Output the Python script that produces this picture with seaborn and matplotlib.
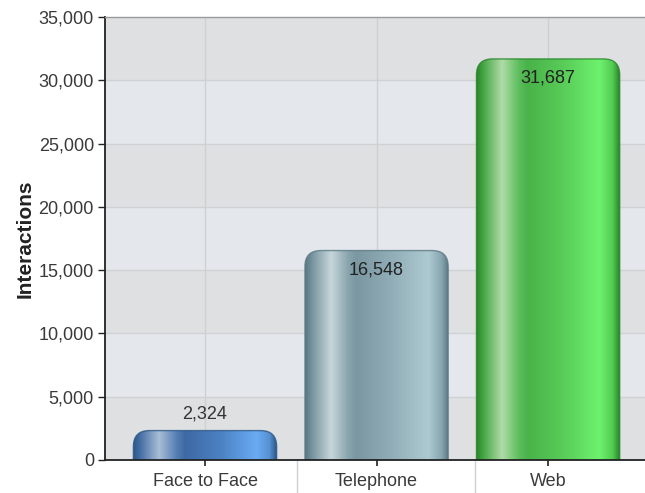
import numpy as np
import pandas as pd
import matplotlib
matplotlib.use("Agg")
import matplotlib.pyplot as plt
from matplotlib.patches import FancyBboxPatch
from matplotlib.colors import LinearSegmentedColormap
from matplotlib.ticker import FuncFormatter, FixedLocator
import seaborn as sns

# Interactions by channel
channels = ["Face to Face", "Telephone", "Web"]
interactions = [2324, 16548, 31687]

# Cylinder-style shading stops for each channel (position across bar, colour)
shades = {
    "Face to Face": [(0.0, "#2b5687"), (0.05, "#4670a5"), (0.18, "#aabed6"),
                     (0.30, "#5680b4"), (0.36, "#3e69a4"), (0.60, "#4b80c2"),
                     (0.86, "#6aabf2"), (0.95, "#5690d2"), (1.0, "#2b5687")],
    "Telephone":    [(0.0, "#5a7884"), (0.05, "#7895a0"), (0.18, "#c7d6db"),
                     (0.30, "#89a4ad"), (0.36, "#7a97a2"), (0.60, "#91aeb8"),
                     (0.86, "#adc9d1"), (0.95, "#88a6b0"), (1.0, "#5a7884")],
    "Web":          [(0.0, "#278527"), (0.05, "#46a646"), (0.18, "#b0dca8"),
                     (0.30, "#5bbd5b"), (0.36, "#49b349"), (0.60, "#58cb58"),
                     (0.86, "#6ef26e"), (0.95, "#52cc52"), (1.0, "#278527")],
}

sns.set_theme(style="white")
plt.rcParams["font.family"] = ["Liberation Sans", "DejaVu Sans"]

df = pd.DataFrame({"channel": channels, "interactions": interactions})

fig = plt.figure(figsize=(6.45, 4.93), dpi=100)
ax = fig.add_axes([105 / 645, 33 / 493, 1 - 105 / 645, 443 / 493])

# Alternating horizontal bands behind the bars
for i, lo in enumerate(range(0, 35000, 5000)):
    ax.axhspan(lo, lo + 5000, color="#dfe0e2" if i % 2 == 0 else "#e4e8ec",
               zorder=0, lw=0)

sns.barplot(data=df, x="channel", y="interactions", width=0.835,
            ax=ax, color="#888888", zorder=2)
bars = list(ax.containers[0])

ax.set_xlim(-0.583, 2.565)
ax.set_ylim(0, 35000)

# Grid
for y in range(5000, 35000, 5000):
    ax.axhline(y, color="#cfd1d4", lw=1.0, zorder=0.5)
for x in range(len(channels)):
    ax.axvline(x, color="#cfd0d2", lw=1.0, zorder=0.5)

# Replace flat bars with rounded, shaded cylinders
rad_px = 16.0
bbox = ax.get_window_extent()
xpx = bbox.width / (ax.get_xlim()[1] - ax.get_xlim()[0])
ypx = bbox.height / (ax.get_ylim()[1] - ax.get_ylim()[0])
rad_x = rad_px / xpx
aspect = xpx / ypx
rad_y = rad_x * aspect


def rounded(x0, w, h, **kw):
    # box runs below zero so only the top corners show inside the axes
    return FancyBboxPatch((x0 + rad_x, -2 * rad_y), w - 2 * rad_x,
                          h + 2 * rad_y - rad_y,
                          boxstyle=f"round,pad={rad_x}",
                          mutation_aspect=aspect, **kw)


for patch, name in zip(bars, channels):
    x0 = patch.get_x()
    w = patch.get_width()
    h = patch.get_height()
    patch.set_visible(False)
    box = rounded(x0, w, h, facecolor="none", edgecolor="none", zorder=2)
    ax.add_patch(box)
    cmap = LinearSegmentedColormap.from_list(name, shades[name])
    grad = np.linspace(0, 1, 256)[None, :]
    img = ax.imshow(grad, cmap=cmap, aspect="auto",
                    extent=(x0, x0 + w, 0, h), zorder=2,
                    interpolation="bilinear")
    img.set_clip_path(box)
    ax.add_patch(rounded(x0, w, h, facecolor="none",
                         edgecolor=shades[name][0][1], lw=1.0, zorder=3,
                         alpha=0.8))

# Value labels: above short bars, inside tall ones
for i, val in enumerate(interactions):
    txt = f"{val:,}"
    if val < 5000:
        ax.annotate(txt, (i, val), xytext=(0, 12), textcoords="offset points",
                    ha="center", va="center", fontsize=13, color="#333333",
                    zorder=5)
    else:
        ax.annotate(txt, (i, val), xytext=(0, -14), textcoords="offset points",
                    ha="center", va="center", fontsize=13, color="#222222",
                    zorder=5)

# Axes styling
ax.yaxis.set_major_locator(FixedLocator(range(0, 35001, 5000)))
ax.yaxis.set_major_formatter(FuncFormatter(lambda v, p: f"{int(v):,}"))
ax.tick_params(axis="y", which="major", direction="out", length=5, width=1,
               color="#222222", labelsize=13, labelcolor="#3a3a3a", pad=3,
               left=True)
ax.tick_params(axis="x", which="major", direction="out", length=4, width=1.2,
               color="#222222", labelsize=13, labelcolor="#3a3a3a", pad=5,
               bottom=True)
ax.xaxis.set_minor_locator(FixedLocator([0.536, 1.574]))
ax.tick_params(axis="x", which="minor", direction="out", length=24, width=1,
               color="#d0d0d0", bottom=True)

ax.set_xlabel("")
ax.set_ylabel("Interactions", fontsize=15, fontweight="bold",
              color="#222222", labelpad=3)

for side in ["left", "bottom"]:
    ax.spines[side].set_visible(True)
    ax.spines[side].set_color("#222222")
    ax.spines[side].set_linewidth(1.3)
ax.spines["bottom"].set_zorder(6)
ax.spines["top"].set_color("#9a9a9a")
ax.spines["top"].set_linewidth(1.0)
ax.spines["right"].set_visible(False)

fig.savefig("out.png", dpi=100, facecolor="white")
